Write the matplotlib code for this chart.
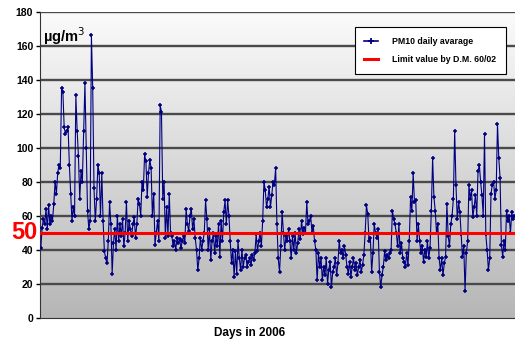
import numpy as np
import matplotlib
matplotlib.use("Agg")
import matplotlib.pyplot as plt
from matplotlib.lines import Line2D

pm10 = [
    41, 53, 58, 55, 64, 52, 66, 55, 60, 57,
    67, 80, 73, 85, 90,
    88, 135, 133, 112,
    108, 110, 112, 90, 73,
    57, 65, 60,
    131, 110, 95, 70,
    86, 80, 110,
    138, 100, 63, 52, 57,
    166, 135, 76, 57,
    70, 90, 85, 60, 85,
    57, 39, 35, 32, 45,
    68, 55, 26, 44,
    52, 40, 60, 45, 55, 48, 58, 42, 50, 68,
    45, 57, 52, 48, 55,
    59, 47, 55, 70, 67, 60,
    80, 75, 96, 92, 71, 85, 93, 88, 60,
    73, 43, 50, 57, 45,
    125, 121, 70,
    80, 47, 65, 48, 73, 50,
    48, 42, 45, 40, 47, 44, 46, 41, 45, 48, 44,
    64, 55, 51, 60, 64, 52, 58,
    47, 40, 28, 35, 47, 40, 45, 50,
    69, 58, 40, 52, 34, 45, 50, 38, 48, 42, 55, 36,
    57, 45, 62, 69, 55, 69, 60,
    45, 32, 40, 24, 39, 26, 45, 35, 28, 40, 30, 35,
    37, 30, 33, 35, 31, 37, 34, 38,
    49, 39, 45, 50, 42,
    57, 80, 75, 65, 70, 77, 65, 72,
    80, 78, 88,
    55, 35, 27, 42,
    62, 50, 40, 48, 45,
    52, 45, 35, 48, 40, 50, 38, 44, 52, 46,
    57, 49, 53, 50, 68, 55, 57, 60, 50, 54,
    45, 40, 22, 38, 30, 35, 22,
    30, 25, 35, 20, 28, 33, 18, 27, 30, 35, 25, 32,
    45, 38, 40, 35, 42,
    37, 30, 26, 33, 24, 30, 35, 28, 32, 25, 30, 34, 27, 31,
    37, 50, 66, 61, 45,
    47, 27, 38,
    55, 50, 47, 52,
    27, 18, 25, 30,
    39, 34, 37, 35, 38, 40,
    63, 58, 55,
    50, 42, 55, 38, 44, 35,
    33, 30, 38, 31, 45,
    71, 63, 85, 68,
    69, 45, 55,
    45, 38, 42, 33, 40, 36, 45, 35, 41,
    63, 94, 71, 63, 50, 55,
    35, 28, 35, 25, 32, 36,
    67, 48, 42, 55, 60, 70,
    110, 78, 58, 68, 62,
    49, 36, 42, 16, 38, 45,
    78, 70, 75, 59, 65, 72, 60,
    86, 90, 80, 72, 60,
    108,
    49, 40, 28, 35,
    73, 78, 80, 70, 75,
    114, 94, 82,
    43, 36, 45, 40,
    63, 57, 60, 50, 62, 58, 60,
]
limit_value = 50
y_ticks = [0, 20, 40, 60, 80, 100, 120, 140, 160, 180]
series_label = "PM10 daily avarage"
limit_label = "Limit value by D.M. 60/02"
x_label = "Days in 2006"

days = np.arange(len(pm10))

fig = plt.figure(figsize=(5.15, 3.47), dpi=100)
ax = fig.add_axes([0.078, 0.0844, 0.922, 0.882])

# gradient background
grad = np.linspace(0, 1, 256).reshape(-1, 1)
cmap = matplotlib.colors.LinearSegmentedColormap.from_list("g", ["#b6b6b6", "#fbfbfb"])
ax.imshow(grad, extent=[0, 1, 0, 1], transform=ax.transAxes, cmap=cmap,
          aspect="auto", origin="lower", zorder=0)

for t in y_ticks[1:]:
    ax.axhline(t, color="#4a4a4a", lw=1.7, zorder=1)

ax.plot(days, pm10, color="#000080", lw=0.8, marker="+", ms=3.2, mew=1.1, zorder=3)
ax.axhline(limit_value, color="#ff0000", lw=2.2, zorder=4)

ax.set_xlim(-0.5, len(pm10) - 0.5)
ax.set_ylim(0, 180)
ax.set_yticks(y_ticks)
ax.set_yticklabels([str(t) for t in y_ticks], fontsize=7.5, fontweight="bold",
                   family="Liberation Sans")
ax.set_xticks([])
ax.tick_params(axis="y", direction="out", length=3, width=1, pad=2)
for s in ["top", "right"]:
    ax.spines[s].set_visible(False)
ax.spines["left"].set_color("#333333")
ax.spines["bottom"].set_color("#333333")

ax.text(0.005, 0.955, "µg/m$^3$", transform=ax.transAxes, fontsize=10.5,
        fontweight="bold", family="Liberation Sans", va="top", ha="left", zorder=5)

ax.text(-0.005, limit_value, "50", transform=ax.get_yaxis_transform(),
        ha="right", va="center", color="#ff0000", fontsize=17, fontweight="bold",
        family="Liberation Sans", zorder=6, clip_on=False)

fig.text(0.485, 0.04, x_label, ha="center", va="center", fontsize=8.5,
         fontweight="bold", family="Liberation Sans")

handles = [
    Line2D([], [], color="#000080", lw=1.2, marker="+", ms=5, mew=1.3),
    Line2D([], [], color="#ff0000", lw=2.2),
]
leg = ax.legend(handles, [series_label, limit_label], loc="upper right",
                bbox_to_anchor=(0.985, 0.955),
                prop={"family": "Liberation Sans", "weight": "bold", "size": 6.3},
                frameon=True, fancybox=False, edgecolor="black", framealpha=1,
                handlelength=1.6, borderpad=1.1, labelspacing=1.1, handletextpad=1.6,
                borderaxespad=0.2)
leg.get_frame().set_linewidth(0.8)
leg.set_zorder(10)

fig.savefig("out.png", dpi=100, facecolor="white")
